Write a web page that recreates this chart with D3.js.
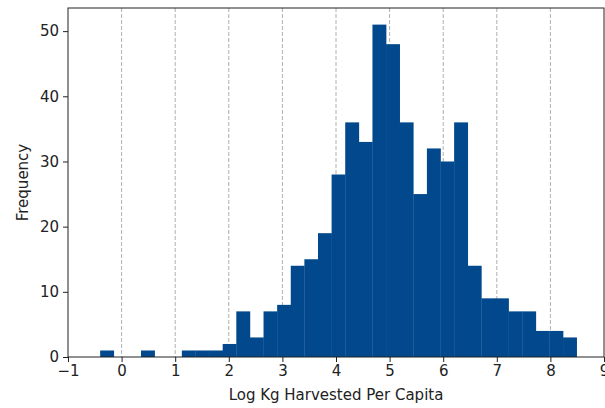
<!DOCTYPE html>
<html>
<head>
<meta charset="utf-8">
<script src="https://cdn.jsdelivr.net/npm/d3@7"></script>
<style>
  body { margin: 0; background: #fff; }
  svg { display: block; font-family: "DejaVu Sans", sans-serif; }
</style>
</head>
<body>
<div id="chart"></div>
<script>
// histogram bins: start at -0.40, width ~0.254
const binStart = -0.40;
const binWidth = 0.254;
const counts = [1, 0, 0, 1, 0, 0, 1, 1, 1, 2, 7, 3, 7, 8, 14, 15, 19, 28, 36, 33,
                51, 48, 36, 25, 32, 30, 36, 14, 9, 9, 7, 7, 4, 4, 3];
const xTicks = [-1, 0, 1, 2, 3, 4, 5, 6, 7, 8, 9];
const yTicks = [0, 10, 20, 30, 40, 50];

const W = 605, H = 408;
const margin = { top: 8, right: 1, bottom: 51, left: 68 };
const width = W - margin.left - margin.right;
const height = H - margin.top - margin.bottom;
const fontSize = "15px";

const svg = d3.select("#chart").append("svg")
    .attr("width", W)
    .attr("height", H);

const g = svg.append("g")
    .attr("transform", `translate(${margin.left},${margin.top})`);

const bins = counts.map((c, i) => ({
    x0: binStart + i * binWidth,
    x1: binStart + (i + 1) * binWidth,
    count: c
}));

const x = d3.scaleLinear().domain([-1, 9]).range([0, width]);
const y = d3.scaleLinear().domain([0, d3.max(counts) * 1.05]).range([height, 0]);

// vertical grid
g.append("g")
    .selectAll("line")
    .data(xTicks.slice(1, -1))
    .join("line")
    .attr("x1", d => x(d)).attr("x2", d => x(d))
    .attr("y1", 0).attr("y2", height)
    .attr("stroke", "#b0b0b0")
    .attr("stroke-width", 1)
    .attr("stroke-dasharray", "4,2");

// bars
g.append("g")
    .selectAll("rect")
    .data(bins.filter(d => d.count > 0))
    .join("rect")
    .attr("x", d => x(d.x0))
    .attr("width", d => x(d.x1) - x(d.x0) + 0.3)
    .attr("y", d => y(d.count))
    .attr("height", d => y(0) - y(d.count))
    .attr("fill", "#02488c");

// axes
const xAxis = g.append("g")
    .attr("transform", `translate(0,${height})`)
    .call(d3.axisBottom(x).tickValues(xTicks).tickSize(5).tickPadding(3)
        .tickFormat(d => d < 0 ? "\u2212" + Math.abs(d) : d));
const yAxis = g.append("g")
    .call(d3.axisLeft(y).tickValues(yTicks).tickSize(5).tickPadding(4));

[xAxis, yAxis].forEach(a => {
    a.select(".domain").remove();
    a.selectAll("line").attr("stroke", "#222");
    a.selectAll("text")
        .attr("fill", "#222")
        .style("font-size", fontSize)
        .style("font-family", "DejaVu Sans");
});

// frame
g.append("rect")
    .attr("width", width)
    .attr("height", height)
    .attr("fill", "none")
    .attr("stroke", "#222")
    .attr("stroke-width", 1);

// labels
g.append("text")
    .attr("x", width / 2)
    .attr("y", height + 43)
    .attr("text-anchor", "middle")
    .attr("fill", "#222")
    .style("font-size", fontSize)
    .text("Log Kg Harvested Per Capita");

g.append("text")
    .attr("transform", "rotate(-90)")
    .attr("x", -height / 2)
    .attr("y", -40)
    .attr("text-anchor", "middle")
    .attr("fill", "#222")
    .style("font-size", fontSize)
    .text("Frequency");
</script>
</body>
</html>
